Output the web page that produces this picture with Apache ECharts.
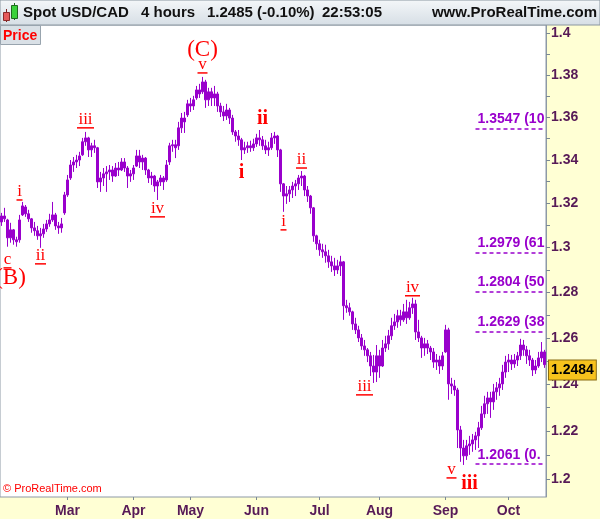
<!DOCTYPE html>
<html><head><meta charset="utf-8">
<script src="https://cdn.jsdelivr.net/npm/echarts@6/dist/echarts.min.js"></script>
<style>html,body{margin:0;padding:0;background:#fff}#c{width:600px;height:519px}</style>
</head><body><div id="c"></div>
<script>
// ---- data (price, USD/CAD) ----
const opens = [1.3116,1.3143,1.3125,1.3044,1.3080,1.3035,1.3035,1.3148,1.3184,1.3153,
1.3130,1.3089,1.3076,1.3053,1.3062,1.3084,1.3107,1.3125,1.3148,1.3098,
1.3089,1.3157,1.3239,1.3317,1.3377,1.3391,1.3400,1.3424,1.3485,1.3503,
1.3447,1.3466,1.3457,1.3299,1.3317,1.3336,1.3345,1.3354,1.3326,1.3363,
1.3354,1.3391,1.3363,1.3326,1.3336,1.3372,1.3419,1.3391,1.3409,1.3354,
1.3317,1.3326,1.3280,1.3299,1.3317,1.3308,1.3391,1.3466,1.3471,1.3466,
1.3550,1.3596,1.3611,1.3663,1.3653,1.3691,1.3729,1.3720,1.3767,1.3682,
1.3720,1.3691,1.3710,1.3653,1.3625,1.3606,1.3634,1.3596,1.3531,1.3512,
1.3494,1.3447,1.3457,1.3466,1.3457,1.3475,1.3503,1.3494,1.3466,1.3447,
1.3457,1.3503,1.3512,1.3447,1.3290,1.3234,1.3244,1.3262,1.3280,1.3290,
1.3317,1.3326,1.3262,1.3234,1.3180,1.3053,1.3017,1.2990,1.2981,1.2963,
1.2936,1.2918,1.2900,1.2918,1.2936,1.2741,1.2732,1.2714,1.2661,1.2635,
1.2600,1.2565,1.2548,1.2522,1.2478,1.2452,1.2522,1.2478,1.2556,1.2574,
1.2609,1.2653,1.2670,1.2697,1.2679,1.2714,1.2688,1.2732,1.2749,1.2626,
1.2600,1.2556,1.2574,1.2556,1.2539,1.2495,1.2504,1.2478,1.2539,1.2635,
1.2401,1.2392,1.2375,1.2205,1.2129,1.2096,1.2138,1.2146,1.2163,1.2180,
1.2214,1.2273,1.2316,1.2341,1.2324,1.2367,1.2384,1.2401,1.2452,1.2495,
1.2504,1.2487,1.2504,1.2522,1.2569,1.2548,1.2522,1.2504,1.2461,1.2478,
1.2513,1.2539];
const closes = [1.3143,1.3130,1.3044,1.3080,1.3035,1.3026,1.3125,1.3189,1.3153,1.3130,
1.3089,1.3076,1.3053,1.3062,1.3084,1.3107,1.3125,1.3148,1.3098,1.3089,
1.3107,1.3239,1.3308,1.3377,1.3391,1.3400,1.3419,1.3485,1.3503,1.3447,
1.3466,1.3457,1.3299,1.3317,1.3336,1.3345,1.3354,1.3326,1.3363,1.3354,
1.3391,1.3363,1.3326,1.3336,1.3363,1.3419,1.3391,1.3409,1.3354,1.3317,
1.3326,1.3280,1.3299,1.3317,1.3299,1.3377,1.3466,1.3471,1.3457,1.3550,
1.3596,1.3578,1.3663,1.3653,1.3682,1.3729,1.3710,1.3767,1.3682,1.3720,
1.3691,1.3710,1.3653,1.3625,1.3606,1.3634,1.3596,1.3531,1.3512,1.3494,
1.3447,1.3457,1.3466,1.3457,1.3475,1.3503,1.3494,1.3466,1.3447,1.3457,
1.3503,1.3512,1.3447,1.3290,1.3234,1.3244,1.3262,1.3280,1.3290,1.3317,
1.3326,1.3262,1.3234,1.3180,1.3053,1.3017,1.2990,1.2981,1.2963,1.2936,
1.2918,1.2900,1.2918,1.2936,1.2741,1.2732,1.2714,1.2661,1.2635,1.2600,
1.2565,1.2548,1.2522,1.2478,1.2452,1.2522,1.2478,1.2556,1.2574,1.2609,
1.2653,1.2670,1.2697,1.2679,1.2714,1.2688,1.2732,1.2749,1.2626,1.2600,
1.2556,1.2574,1.2556,1.2539,1.2495,1.2504,1.2478,1.2522,1.2635,1.2401,
1.2392,1.2375,1.2205,1.2129,1.2096,1.2138,1.2146,1.2163,1.2180,1.2214,
1.2273,1.2316,1.2341,1.2324,1.2367,1.2384,1.2401,1.2452,1.2495,1.2504,
1.2487,1.2504,1.2522,1.2569,1.2548,1.2522,1.2504,1.2461,1.2478,1.2513,
1.2539,1.2484];
const lows = [1.3098,1.3116,1.3004,1.3022,1.3013,1.3004,1.3022,1.3143,1.3139,1.3116,
1.3067,1.3053,1.3035,1.2999,1.3044,1.3071,1.3094,1.3116,1.3080,1.3062,
1.3067,1.3148,1.3230,1.3308,1.3345,1.3363,1.3372,1.3419,1.3466,1.3414,
1.3414,1.3433,1.3271,1.3253,1.3280,1.3253,1.3308,1.3299,1.3322,1.3326,
1.3349,1.3345,1.3271,1.3299,1.3308,1.3368,1.3363,1.3354,1.3331,1.3294,
1.3285,1.3253,1.3216,1.3280,1.3262,1.3299,1.3377,1.3438,1.3409,1.3447,
1.3526,1.3526,1.3601,1.3625,1.3634,1.3682,1.3691,1.3710,1.3644,1.3653,
1.3653,1.3653,1.3625,1.3601,1.3582,1.3587,1.3568,1.3517,1.3485,1.3466,
1.3400,1.3428,1.3433,1.3438,1.3442,1.3461,1.3466,1.3447,1.3428,1.3419,
1.3447,1.3475,1.3414,1.3253,1.3162,1.3198,1.3207,1.3225,1.3234,1.3262,
1.3280,1.3234,1.3207,1.3153,1.3026,1.2990,1.2963,1.2954,1.2932,1.2909,
1.2891,1.2873,1.2882,1.2873,1.2679,1.2710,1.2697,1.2635,1.2617,1.2582,
1.2548,1.2522,1.2495,1.2435,1.2405,1.2409,1.2427,1.2474,1.2539,1.2548,
1.2591,1.2635,1.2644,1.2653,1.2670,1.2661,1.2679,1.2705,1.2591,1.2582,
1.2513,1.2522,1.2530,1.2504,1.2470,1.2461,1.2444,1.2461,1.2535,1.2333,
1.2358,1.2350,1.2129,1.2071,1.2058,1.2079,1.2100,1.2113,1.2121,1.2129,
1.2205,1.2256,1.2273,1.2256,1.2290,1.2333,1.2350,1.2375,1.2427,1.2452,
1.2461,1.2470,1.2478,1.2504,1.2522,1.2487,1.2478,1.2435,1.2444,1.2470,
1.2495,1.2470];
const highs = [1.3157,1.3180,1.3130,1.3112,1.3084,1.3049,1.3148,1.3207,1.3193,1.3171,
1.3134,1.3116,1.3098,1.3089,1.3107,1.3125,1.3153,1.3207,1.3157,1.3116,
1.3134,1.3253,1.3331,1.3400,1.3414,1.3424,1.3438,1.3503,1.3531,1.3508,
1.3480,1.3494,1.3461,1.3345,1.3363,1.3372,1.3377,1.3372,1.3386,1.3391,
1.3409,1.3409,1.3372,1.3354,1.3377,1.3447,1.3447,1.3424,1.3414,1.3359,
1.3345,1.3331,1.3308,1.3331,1.3326,1.3400,1.3480,1.3494,1.3494,1.3578,
1.3620,1.3625,1.3682,1.3691,1.3701,1.3748,1.3758,1.3791,1.3777,1.3739,
1.3739,1.3748,1.3720,1.3668,1.3653,1.3663,1.3644,1.3611,1.3540,1.3540,
1.3503,1.3485,1.3485,1.3490,1.3499,1.3522,1.3540,1.3512,1.3494,1.3485,
1.3526,1.3531,1.3517,1.3452,1.3294,1.3280,1.3280,1.3299,1.3308,1.3331,
1.3349,1.3331,1.3280,1.3239,1.3184,1.3058,1.3035,1.3017,1.3013,1.2990,
1.2963,1.2954,1.2945,1.2963,1.2940,1.2767,1.2754,1.2719,1.2688,1.2653,
1.2617,1.2591,1.2556,1.2539,1.2526,1.2569,1.2548,1.2591,1.2609,1.2635,
1.2688,1.2705,1.2723,1.2723,1.2749,1.2767,1.2758,1.2776,1.2767,1.2679,
1.2609,1.2600,1.2591,1.2565,1.2556,1.2530,1.2522,1.2539,1.2657,1.2644,
1.2427,1.2418,1.2384,1.2222,1.2163,1.2163,1.2180,1.2188,1.2197,1.2239,
1.2307,1.2350,1.2367,1.2367,1.2401,1.2409,1.2427,1.2483,1.2522,1.2530,
1.2526,1.2530,1.2539,1.2596,1.2591,1.2565,1.2548,1.2513,1.2504,1.2539,
1.2582,1.2548];
const monthLabels = ['Mar','Apr','May','Jun','Jul','Aug','Sep','Oct'];
const monthIndex = [22,44,63,85,106,126,148,169];
const yTickLabels = [1.2,1.22,1.24,1.26,1.28,1.3,1.32,1.34,1.36,1.38,1.4];
const yMinorTicks = [1.2,1.21,1.22,1.23,1.24,1.25,1.26,1.27,1.28,1.29,1.3,1.31,1.32,1.33,1.34,1.35,1.36,1.37,1.38,1.39,1.4];
const fibLevels = [1.3547,1.2979,1.2804,1.2629,1.2061];
const fibTexts = ['1.3547 (100.0%)','1.2979 (61.8%)','1.2804 (50.0%)','1.2629 (38.2%)','1.2061 (0.0%)'];
const fibStartIndex = 158;
const lastPrice = 1.2484;
// Elliott wave annotations: text, bar index, price anchor, style kind
const waveTexts  = ['c','(B)','i','ii','iii','iv','v','(C)','i','ii','i','ii','iii','iv','v','iii'];
const waveIdx    = [2,3,6,13,28,52,67,67,80,87,94,100,121,137,150,156];
const wavePrices = [1.2909,1.2864,1.3216,1.2927,1.3550,1.3139,1.3810,1.3920,1.3340,1.3592,1.3080,1.3363,1.2354,1.2785,1.2004,1.1979];
const waveKinds  = ['u','big','u','u','u','u','u','big','bold','bold','u','u','u','u','u','bold'];

// ---- chart ----
const L = Math.log;
const PURPLE = '#9900cc';
const AXIS_TXT = '#571a57';
const SANS = '"Liberation Sans", Arial, sans-serif';
const SERIF = '"Liberation Serif", "Times New Roman", serif';
const N = opens.length;
const cats = opens.map((_, i) => String(i));
const monthAt = {};
monthIndex.forEach((ix, k) => { monthAt[ix] = monthLabels[k]; });
const candle = opens.map((o, i) => [L(o), L(closes[i]), L(lows[i]), L(highs[i])]);

const underlineW = {'c': 8, 'i': 6, 'ii': 11, 'iii': 17, 'iv': 15, 'v': 10};
const markPoints = waveTexts.map((t, k) => {
  const kind = waveKinds[k];
  const base = { coord: [waveIdx[k], L(wavePrices[k])], name: t };
  if (kind === 'u') {
    return Object.assign(base, {
      symbol: 'rect', symbolSize: [underlineW[t] || 10, 1.5],
      itemStyle: { color: '#ff0000' },
      label: { show: true, position: 'top', distance: -1, formatter: t,
               color: '#ff0000', fontFamily: SERIF, fontSize: 17 }
    });
  }
  return Object.assign(base, {
    symbol: 'rect', symbolSize: [1, 1], itemStyle: { color: 'rgba(0,0,0,0)' },
    label: { show: true, position: 'inside', formatter: t, color: '#ff0000',
             fontFamily: SERIF, fontSize: kind === 'big' ? 23 : 20,
             fontWeight: kind === 'bold' ? 'bold' : 'normal' }
  });
});

const fibLines = fibLevels.map((v, k) => [
  { name: fibTexts[k], coord: [fibStartIndex, L(v)] },
  { coord: [N - 1, L(v)] }
]);

const chart = echarts.init(document.getElementById('c'), null, { renderer: 'canvas' });
chart.setOption({
  animation: false,
  backgroundColor: '#ffffd4',
  grid: { left: 0, top: 25, right: 54, bottom: 22, show: true, backgroundColor: '#ffffff',
          borderColor: '#8d99a6', borderWidth: 1, containLabel: false, outerBoundsMode: 'none' },
  xAxis: {
    type: 'category', data: cats, boundaryGap: true,
    axisLine: { show: false },
    axisTick: { show: true, alignWithLabel: true, length: 3,
                interval: (i) => monthAt[i] !== undefined, lineStyle: { color: '#7a8894' } },
    axisLabel: { show: true, interval: (i) => monthAt[i] !== undefined,
                 formatter: (v, i) => monthAt[i] || '', color: AXIS_TXT,
                 fontFamily: SANS, fontWeight: 'bold', fontSize: 14, margin: 7 },
    splitLine: { show: false }
  },
  yAxis: {
    type: 'value', position: 'right', scale: true,
    min: L(1.1925), max: L(1.4041),
    axisLine: { show: true, lineStyle: { color: '#8d99a6' } },
    axisTick: { show: true, length: 4, customValues: yMinorTicks.map(L), lineStyle: { color: '#7a8894' } },
    axisLabel: { show: true, customValues: yTickLabels.map(L),
                 formatter: (v) => String(+Math.exp(v).toFixed(2)),
                 color: AXIS_TXT, fontFamily: SANS, fontWeight: 'bold', fontSize: 14, margin: 5 },
    splitLine: { show: false }
  },
  series: [{
    type: 'candlestick', data: candle, barWidth: 3,
    itemStyle: { color: PURPLE, color0: PURPLE, borderColor: PURPLE, borderColor0: PURPLE, borderWidth: 1 },
    markPoint: { silent: true, data: markPoints },
    markLine: {
      silent: true, symbol: ['none', 'none'],
      data: fibLines,
      lineStyle: { color: PURPLE, type: [4, 3], width: 1.5 },
      label: { show: true, position: 'insideStartTop', distance: 2, formatter: (p) => p.name,
               color: PURPLE, fontFamily: SANS, fontWeight: 'bold', fontSize: 14,
               width: 70, overflow: 'truncate', ellipsis: '' }
    }
  }, {
    type: 'line', data: [], silent: true,
    markLine: {
      silent: true, symbol: ['none', 'none'],
      data: [{ yAxis: L(lastPrice), name: lastPrice.toFixed(4) }],
      lineStyle: { color: 'rgba(0,0,0,0)', width: 0 },
      label: { show: true, position: 'end', distance: 3, formatter: (p) => p.name,
               backgroundColor: '#f7c31c', borderColor: '#8a6d10', borderWidth: 1,
               padding: [3, 2, 2, 2], color: '#000', fontFamily: SANS, fontWeight: 'bold', fontSize: 14 }
    }
  }],
  graphic: [
    { type: 'rect', shape: { x: 0, y: 0, width: 600, height: 25 }, z: 100,
      style: { fill: new echarts.graphic.LinearGradient(0, 0, 0, 1, [
        { offset: 0, color: '#f4f7f9' }, { offset: 1, color: '#d6dee5' }]), stroke: '#8a96a0', lineWidth: 1 } },
    { type: 'line', shape: { x1: 6.5, y1: 9, x2: 6.5, y2: 22 }, z: 101, style: { stroke: '#7a2020', lineWidth: 1 } },
    { type: 'rect', shape: { x: 3.5, y: 12.5, width: 6, height: 8 }, z: 102, style: { fill: '#e65a5a', stroke: '#8a2a2a', lineWidth: 1 } },
    { type: 'line', shape: { x1: 14.5, y1: 3, x2: 14.5, y2: 20 }, z: 101, style: { stroke: '#1f6a1f', lineWidth: 1 } },
    { type: 'rect', shape: { x: 11.5, y: 5.5, width: 6, height: 13 }, z: 102, style: { fill: '#3ad23a', stroke: '#1f6a1f', lineWidth: 1 } },
    { type: 'text', z: 102, style: { x: 23, y: 13, text: 'Spot USD/CAD', font: 'bold 15px ' + SANS, fill: '#111', verticalAlign: 'middle' } },
    { type: 'text', z: 102, style: { x: 141, y: 13, text: '4 hours', font: 'bold 15px ' + SANS, fill: '#111', verticalAlign: 'middle' } },
    { type: 'text', z: 102, style: { x: 207, y: 13, text: '1.2485 (-0.10%)', font: 'bold 15px ' + SANS, fill: '#111', verticalAlign: 'middle' } },
    { type: 'text', z: 102, style: { x: 322, y: 13, text: '22:53:05', font: 'bold 15px ' + SANS, fill: '#111', verticalAlign: 'middle' } },
    { type: 'text', z: 102, style: { x: 597, y: 13, text: 'www.ProRealTime.com', font: 'bold 15px ' + SANS, fill: '#111', align: 'right', verticalAlign: 'middle' } },
    { type: 'rect', z: 102, shape: { x: 0.5, y: 25.5, width: 40, height: 19 }, style: { fill: '#d9e0e6', stroke: '#98a4ae', lineWidth: 1 } },
    { type: 'text', z: 103, style: { x: 3, y: 36, text: 'Price', font: 'bold 14px ' + SANS, fill: '#ff0000', verticalAlign: 'middle' } },
    { type: 'text', z: 103, style: { x: 3, y: 489, text: '\u00a9 ProRealTime.com', font: '11px ' + SANS, fill: '#ff0000', verticalAlign: 'middle' } }
  ]
});
</script></body></html>
